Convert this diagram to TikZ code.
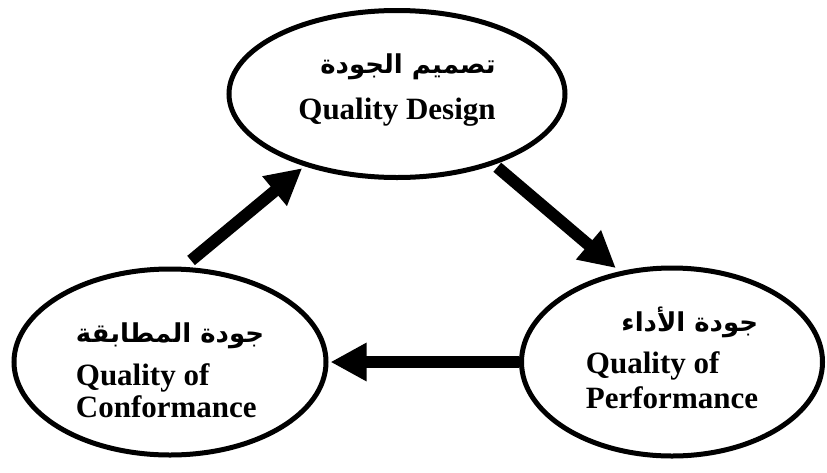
\documentclass[tikz,border=0pt]{standalone}
\usepackage{fontspec}
\setmainfont{Liberation Serif}
\newfontfamily\arabicfont[Script=Arabic]{DejaVu Sans}
\TeXXeTstate=1
\usetikzlibrary{shapes.geometric, arrows.meta, positioning}
\tikzstyle{quality} = [ellipse, draw=black, line width=5pt, inner sep=0pt, font=\bfseries\fontsize{31}{32}\selectfont]
\tikzstyle{arrow} = [line width=12pt, -{Triangle[length=36pt, width=36pt]}]
% arabic title line, right aligned, with a strut of the given height
\newcommand{\artxt}[2]{\multicolumn{1}{@{}r@{}}{\rule{0pt}{#1}\arabicfont\bfseries\fontsize{26}{28}\selectfont #2}}

\begin{document}
\begin{tikzpicture}[x=1pt, y=-1pt, node distance=268pt]
        \useasboundingbox (0,0) rectangle (827,472);
        \node (design) [quality, minimum width=336pt, minimum height=167pt] at (397,94) {\begin{tabular}{@{}l@{}}\artxt{24pt}{\beginR تصميم الجودة\endR}\\[14pt] Quality Design\\[9pt]\end{tabular}};
        \node (conform) [quality, minimum width=312pt, minimum height=186pt, below of=design, xshift=-227pt] {\begin{tabular}{@{}l@{}}\artxt{46pt}{\beginR جودة المطابقة\endR}\\[11pt] Quality of\\ Conformance\end{tabular}};
        \node (perform) [quality, minimum width=301pt, minimum height=188pt, below of=design, xshift=275pt] {\begin{tabular}{@{}l@{}}\artxt{25pt}{\beginR جودة الأداء\endR}\\[10pt] Quality of\\[3pt] Performance\end{tabular}};

        \draw [arrow, shorten <=10pt, shorten >=3pt] (conform.82) -- (design.218);
        \draw [arrow, shorten <=4pt, shorten >=5pt] (design.-36) -- (perform.120);
        \draw [arrow, shorten >=2pt] (perform) -- (conform);
    \end{tikzpicture}
\end{document}
